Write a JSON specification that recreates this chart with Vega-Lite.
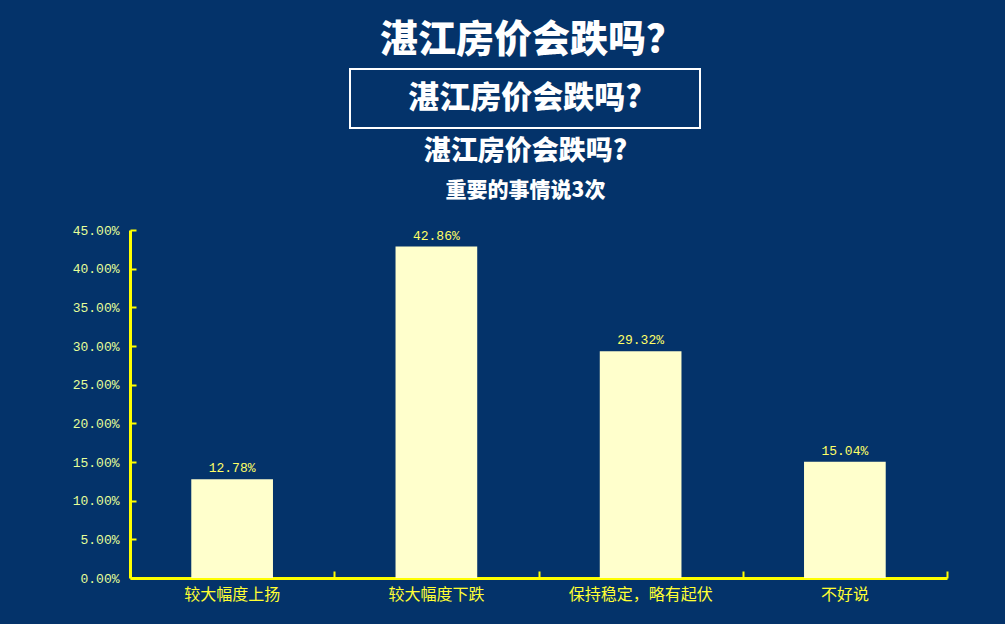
{
  "$schema": "https://vega.github.io/schema/vega-lite/v6.json",
  "background": "#04336A",
  "padding": {"left": 72, "right": 57, "top": 22, "bottom": 23},
  "autosize": {"type": "pad"},
  "title": {
    "text": "湛江房价会跌吗？",
    "font": "Noto Sans CJK SC",
    "fontSize": 38,
    "fontWeight": 900,
    "color": "#FFFFFF",
    "anchor": "middle",
    "dx": 22,
    "offset": 8
  },
  "config": {
    "view": {"stroke": null},
    "font": "Noto Sans CJK SC"
  },
  "bounds": "flush",
  "spacing": 161,
  "vconcat": [
    {
      "hconcat": [
        {
          "width": 220,
          "height": 59,
          "data": {"values": [{"t": ""}]},
          "mark": {"type": "text"},
          "encoding": {"text": {"field": "t"}}
        },
        {
          "width": 350,
          "height": 59,
          "view": {"stroke": "#FFFFFF", "strokeWidth": 2},
          "data": {"values": [{"t": "湛江房价会跌吗?"}]},
          "mark": {"type": "text", "font": "Noto Sans CJK SC", "fontSize": 31, "fontWeight": 900, "color": "#FFFFFF", "align": "center", "baseline": "middle"},
          "encoding": {"text": {"field": "t"}}
        }
      ],
      "spacing": 0,
      "bounds": "flush"
    },
    {
      "width": 817,
      "height": 348,
      "title": {
        "text": "湛江房价会跌吗?",
        "subtitle": "重要的事情说3次",
        "font": "Noto Sans CJK SC",
        "fontSize": 27,
        "fontWeight": 900,
        "color": "#FFFFFF",
        "subtitleFont": "Noto Sans CJK SC",
        "subtitleFontSize": 21,
        "subtitleFontWeight": 900,
        "subtitleColor": "#FFFFFF",
        "subtitlePadding": 14,
        "anchor": "middle",
        "frame": "group",
        "dx": -13,
        "offset": 22
      },
      "data": {
        "values": [
          {"category": "较大幅度上扬", "share": 0.1278},
          {"category": "较大幅度下跌", "share": 0.4286},
          {"category": "保持稳定，略有起伏", "share": 0.2932},
          {"category": "不好说", "share": 0.1504}
        ]
      },
      "encoding": {
        "x": {
          "field": "category",
          "type": "nominal",
          "sort": null,
          "scale": {"paddingInner": 0.6, "paddingOuter": 0.3}
        },
        "y": {
          "field": "share",
          "type": "quantitative",
          "scale": {"domain": [0, 0.45], "nice": false},
          "axis": {
            "title": null,
            "grid": false,
            "values": [0, 0.05, 0.1, 0.15, 0.2, 0.25, 0.3, 0.35, 0.4, 0.45],
            "format": ".2%",
            "domainColor": "#FFFF00",
            "domainWidth": 3,
            "tickColor": "#FFFF00",
            "tickWidth": 2,
            "tickSize": -6,
            "labelColor": "#E6FF99",
            "labelFont": "Liberation Mono",
            "labelFontSize": 13,
            "labelPadding": 17
          }
        }
      },
      "layer": [
        {
          "mark": {"type": "bar", "color": "#FFFFCC"},
          "encoding": {
            "x": {
              "field": "category",
              "type": "nominal",
              "sort": null,
              "axis": {
                "orient": "bottom",
                "title": null,
                "labelAngle": 0,
                "ticks": false,
                "domainColor": "#FFFF00",
                "domainWidth": 3,
                "labelColor": "#FFFF33",
                "labelFont": "Noto Sans CJK SC",
                "labelFontSize": 16,
                "labelPadding": 8
              }
            }
          }
        },
        {
          "mark": {"type": "text", "baseline": "bottom", "dy": -4, "color": "#FFFF66", "font": "Liberation Mono", "fontSize": 13},
          "encoding": {
            "x": {
              "field": "category",
              "type": "nominal",
              "sort": null,
              "axis": {
                "orient": "bottom",
                "title": null,
                "labels": false,
                "domain": false,
                "bandPosition": 1,
                "tickOffset": 61.3,
                "tickColor": "#FFFF00",
                "tickWidth": 2,
                "tickSize": -7
              }
            },
            "text": {"field": "share", "type": "quantitative", "format": ".2%"}
          }
        }
      ],
      "resolve": {"axis": {"x": "independent"}}
    }
  ]
}
